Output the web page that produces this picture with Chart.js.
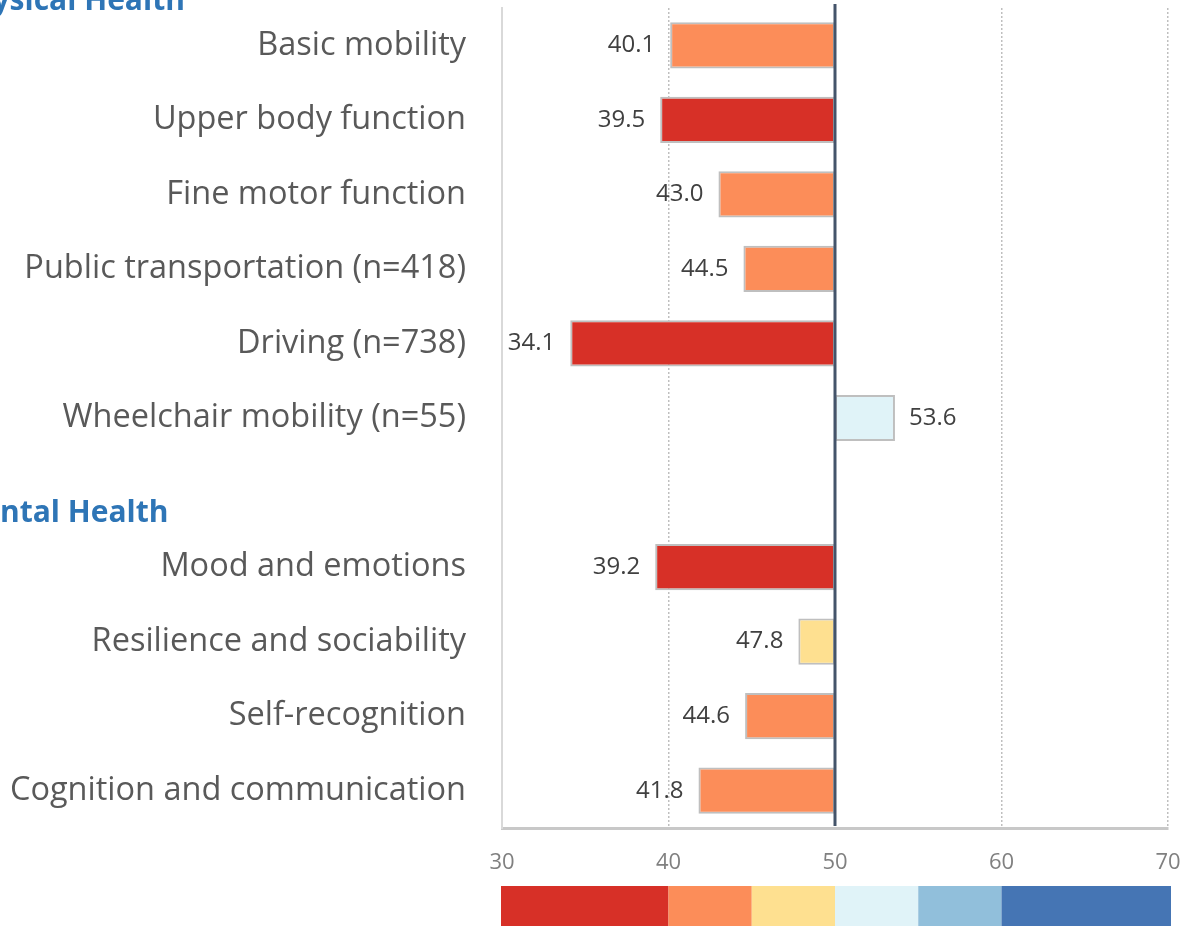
<!DOCTYPE html>
<html>
<head>
<meta charset="utf-8">
<script src="https://cdn.jsdelivr.net/npm/chart.js@4.4.1/dist/chart.umd.min.js"></script>
<style>
  html, body { margin: 0; padding: 0; background: #fff; overflow: hidden; }
  #wrap { position: relative; width: 1183px; height: 926px; }
</style>
</head>
<body>
<div id="wrap"><canvas id="chartScores"></canvas></div>
<script>
// domain scores vs. reference mean of 50
const categories = [
  'Basic mobility',
  'Upper body function',
  'Fine motor function',
  'Public transportation (n=418)',
  'Driving (n=738)',
  'Wheelchair mobility (n=55)',
  '',
  'Mood and emotions',
  'Resilience and sociability',
  'Self-recognition',
  'Cognition and communication'
];
const scores = [40.1, 39.5, 43.0, 44.5, 34.1, 53.6, null, 39.2, 47.8, 44.6, 41.8];
const refValue = 50;

// section headers and the row they sit on (-1 = above first row)
const sectionTitles = ['Physical Health', 'Mental Health'];
const sectionRows = [-1, 6];

const xTicks = [30, 40, 50, 60, 70];

// colour scale legend
const scaleBreaks = [30, 40, 45, 50, 55, 60, 70];
const scaleColors = ['#D73027', '#FC8D59', '#FEE090', '#E0F3F8', '#91BFDB', '#4575B4'];

const FONT = '"Open Sans", sans-serif';

function colorFor(v) {
  for (let i = 0; i < scaleColors.length; i++) {
    if (v >= scaleBreaks[i] && v < scaleBreaks[i + 1]) return scaleColors[i];
  }
  return scaleColors[scaleColors.length - 1];
}

const extras = {
  id: 'extras',
  afterDatasetsDraw(chart) {
    const { ctx, chartArea, scales: { x, y } } = chart;
    ctx.save();

    // reference line at 50
    const x50 = x.getPixelForValue(refValue);
    ctx.strokeStyle = '#44546A';
    ctx.lineWidth = 3;
    ctx.beginPath();
    ctx.moveTo(x50, chartArea.top - 4);
    ctx.lineTo(x50, chartArea.bottom - 2);
    ctx.stroke();

    // value labels
    ctx.font = '24px ' + FONT;
    ctx.fillStyle = '#404040';
    ctx.textBaseline = 'middle';
    scores.forEach((v, i) => {
      if (v == null) return;
      const px = x.getPixelForValue(v);
      const py = y.getPixelForValue(i);
      if (v < refValue) {
        ctx.textAlign = 'right';
        ctx.fillText(v.toFixed(1), px - 15, py);
      } else {
        ctx.textAlign = 'left';
        ctx.fillText(v.toFixed(1), px + 14, py);
      }
    });

    // section headers (small nudges to sit where the original has them)
    const nudge = [39, 29];
    ctx.font = 'bold 30px ' + FONT;
    ctx.fillStyle = '#2E75B6';
    ctx.textAlign = 'left';
    ctx.textBaseline = 'alphabetic';
    sectionTitles.forEach((t, i) => {
      ctx.fillText(t, -46, y.getPixelForValue(sectionRows[i]) + nudge[i]);
    });

    // colour scale bar
    for (let i = 0; i < scaleColors.length; i++) {
      const x0 = x.getPixelForValue(scaleBreaks[i]) - (i === 0 ? 1 : 0);
      const x1 = x.getPixelForValue(scaleBreaks[i + 1]) + (i === scaleColors.length - 1 ? 3 : 0);
      ctx.fillStyle = scaleColors[i];
      ctx.fillRect(x0, 886, x1 - x0, 40);
    }
    ctx.restore();
  }
};

new Chart(document.getElementById('chartScores'), {
  type: 'bar',
  data: {
    labels: categories,
    datasets: [{
      data: scores.map(v => v == null ? null : [v, refValue]),
      backgroundColor: scores.map(v => v == null ? 'transparent' : colorFor(v)),
      borderColor: '#BFBFBF',
      borderWidth: 2,
      borderSkipped: false,
      categoryPercentage: 1,
      barPercentage: 0.62
    }]
  },
  options: {
    indexAxis: 'y',
    responsive: true,
    maintainAspectRatio: false,
    animation: false,
    layout: { padding: { top: 8, right: 15, left: 0, bottom: 0 } },
    plugins: { legend: { display: false }, tooltip: { enabled: false } },
    scales: {
      x: {
        min: 30,
        max: 70,
        afterBuildTicks: (s) => { s.ticks = xTicks.map(v => ({ value: v })); },
        afterFit: (s) => { s.height = 98; s.paddingLeft = 0; s.paddingRight = 0; },
        grid: {
          drawTicks: false,
          color: (c) => (c.tick && (c.tick.value === 30 || c.tick.value === 50)) ? 'transparent' : '#BFBFBF',
          lineWidth: 1.5
        },
        border: { display: true, color: '#C8C8C8', width: 3, dash: [2, 2] },
        ticks: { color: '#808080', padding: 22, font: { family: FONT, size: 22 } }
      },
      y: {
        afterFit: (s) => { s.width = 502; s.paddingTop = 0; s.paddingBottom = 0; },
        grid: { display: false, drawTicks: false },
        border: { display: true, color: '#D9D9D9', width: 2 },
        ticks: { color: '#595959', padding: 36, font: { family: FONT, size: 32.5 } }
      }
    }
  },
  plugins: [extras]
});
</script>
</body>
</html>
